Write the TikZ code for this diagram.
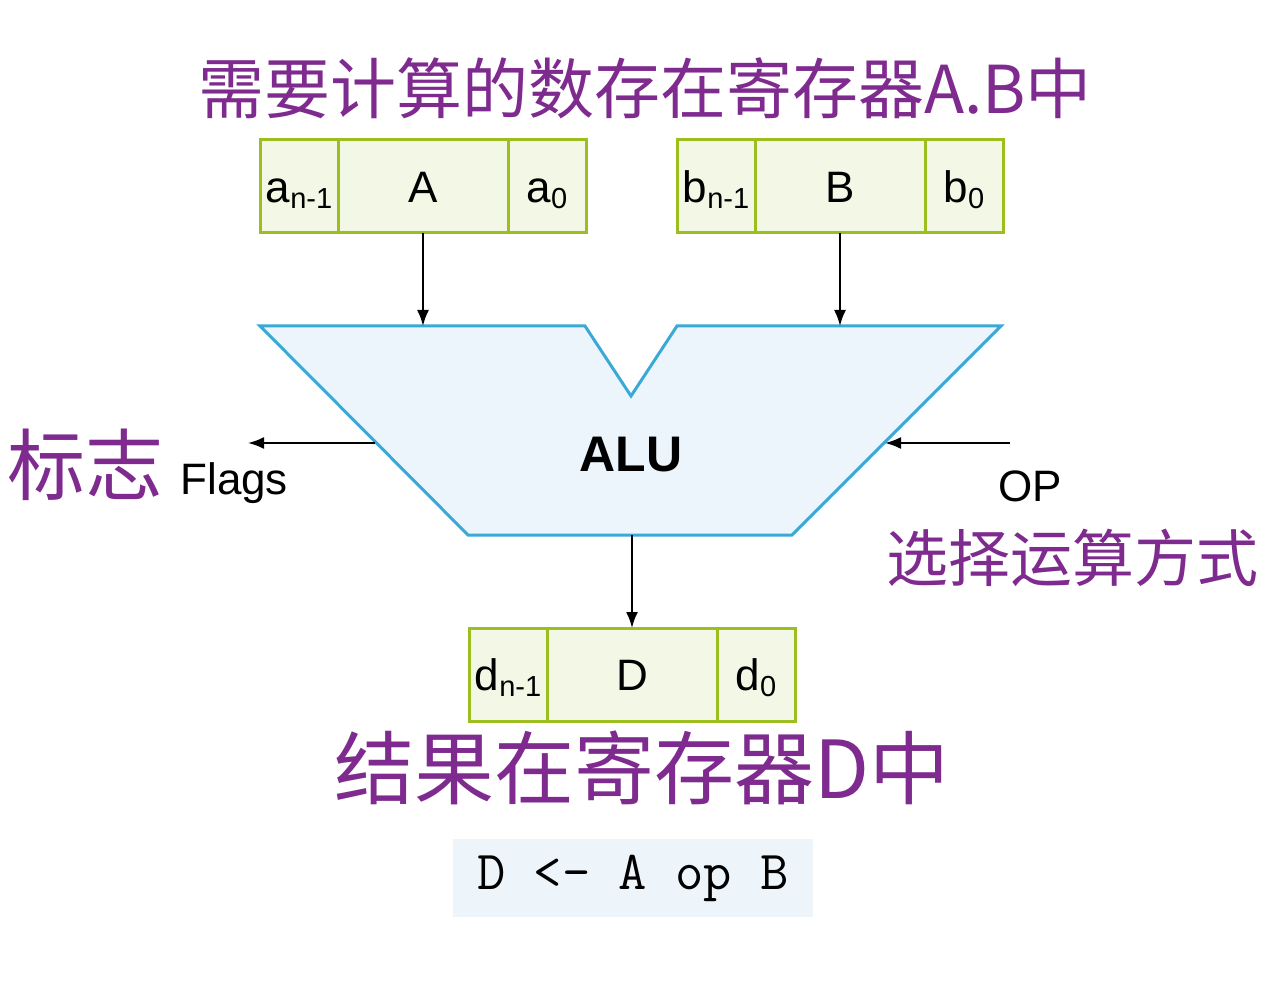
\documentclass[tikz,border=0pt]{standalone}
\usepackage{fontspec}
\setmainfont{Liberation Sans}
\newfontfamily\cjk{Noto Sans CJK SC}
\usepackage{xcolor}
\usetikzlibrary{positioning,arrows.meta}
\definecolor{reggreen}{HTML}{9CBE1E}
\definecolor{regfill}{HTML}{F3F7E6}
\definecolor{alublue}{HTML}{3BA9D6}
\definecolor{alufill}{HTML}{ECF5FB}
\definecolor{codefill}{HTML}{EDF5FB}
\definecolor{handink}{HTML}{7E2A8E}
\newcommand{\regsub}[1]{\raisebox{-0.25ex}{\fontsize{14.5}{15}\selectfont #1}}

\begin{document}
\begin{tikzpicture}[
x=0.5pt, y=-0.5pt,
cell/.style={
draw=reggreen,
fill=regfill,
line width=1.5pt,
outer sep=0pt,
minimum height=46.5pt,
inner sep=0pt,
text height=16pt,
text depth=0pt,
font=\fontsize{22}{26}\selectfont
},
endcell/.style={cell, minimum width=39pt},
midcell/.style={cell, minimum width=85pt},
arrow/.style={
-{Latex[length=8pt,width=6pt]},
line width=1pt,
color=black
},
note/.style={
color=handink,
font=\cjk
}
]
\useasboundingbox (0,0) rectangle (1269,1000);

% register A
\node[endcell, anchor=north west] (an) at (260,140) {a\regsub{n-1}};
\node[midcell, right=0pt of an] (regA) {A};
\node[endcell, right=0pt of regA] (a0) {a\regsub{0}};

% register B
\node[endcell, anchor=north west] (bn) at (677,140) {b\regsub{n-1}};
\node[midcell, right=0pt of bn] (regB) {B};
\node[endcell, right=0pt of regB] (b0) {b\regsub{0}};

% register D
\node[endcell, anchor=north west] (dn) at (469,628) {d\regsub{n-1}};
\node[midcell, right=0pt of dn] (regD) {D};
\node[endcell, right=0pt of regD] (d0) {d\regsub{0}};

% ALU
\draw[draw=alublue, fill=alufill, line width=1.5pt, line join=miter]
(260,326) -- (585,326) -- (631,396) -- (677,326) -- (1001,326)
-- (792,535) -- (468,535) -- cycle;
\node[font=\bfseries\fontsize{25}{30}\selectfont] (alu) at (631,455) {ALU};
\coordinate (alutop) at (631,326);
\coordinate (alubottom) at (631,535);
\coordinate (aluF) at (375,443);
\coordinate (aluOP) at (885,443);
\coordinate (flagsend) at (248,443);
\coordinate (opstart) at (1010,443);

\draw[arrow] (regA.south) -- (regA.south |- alutop);
\draw[arrow] (regB.south) -- (regB.south |- alutop);
\draw[arrow] (regD.north |- alubottom) -- (regD.north);
\draw[arrow] (aluF) -- (flagsend);
\draw[arrow] (opstart) -- (aluOP);

\node[anchor=base west, inner sep=0pt, font=\fontsize{22}{26}\selectfont] (flags) at (180,494) {Flags};
\node[anchor=base west, inner sep=0pt, font=\fontsize{22}{26}\selectfont] (op) at (998,501) {OP};

% formula
\node[fill=codefill, minimum width=180pt, minimum height=39pt,
font=\ttfamily\fontsize{27.5}{32}\selectfont] (code) at (633,878) {D <- A op B};

% handwritten notes
\node[note, font=\cjk\fontsize{33}{40}\selectfont] (noteAB) at (645,88) {需要计算的数存在寄存器A.B中};
\node[note, font=\cjk\fontsize{39}{44}\selectfont] (noteflags) at (85,465) {标志};
\node[note, font=\cjk\fontsize{31}{38}\selectfont] (noteop) at (1072,558) {选择运算方式};
\node[note, font=\cjk\fontsize{40}{46}\selectfont] (noteD) at (642,768) {结果在寄存器D中};

\end{tikzpicture}
\end{document}
